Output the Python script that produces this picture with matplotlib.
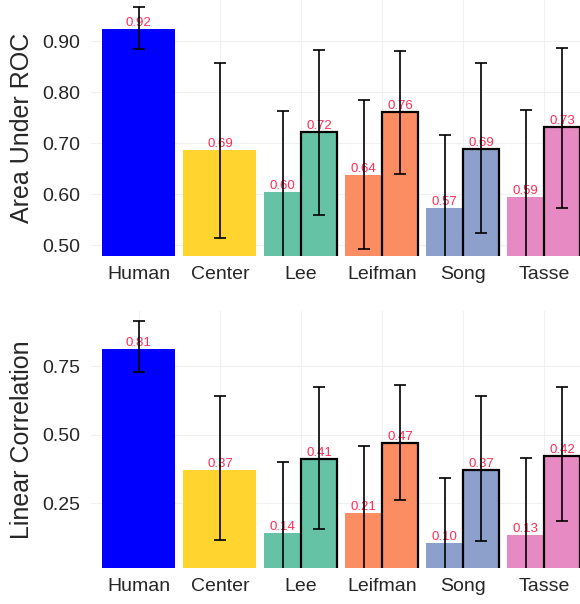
"""Saliency benchmark: AUC and linear correlation per method."""
import matplotlib

matplotlib.use("Agg")
import matplotlib.pyplot as plt
import numpy as np

groups = ["Human", "Center", "Lee", "Leifman", "Song", "Tasse"]
group_colors = ["#0000FF", "#FFD42F", "#66C2A5", "#FC8D62", "#8DA0CB", "#E78AC3"]

# AUC: single bars for Human/Center, (original, improved) pairs for the rest
auc_single = [0.924, 0.686]
auc_single_lo = [0.884, 0.514]
auc_single_hi = [0.967, 0.857]
auc_orig = [0.604, 0.638, 0.572, 0.594]
auc_orig_lo = [0.445, 0.492, 0.428, 0.425]
auc_orig_hi = [0.763, 0.784, 0.716, 0.765]
auc_impr = [0.722, 0.761, 0.689, 0.731]
auc_impr_lo = [0.559, 0.639, 0.523, 0.573]
auc_impr_hi = [0.882, 0.880, 0.857, 0.886]

# Linear correlation
cc_single = [0.814, 0.372]
cc_single_lo = [0.728, 0.115]
cc_single_hi = [0.914, 0.640]
cc_orig = [0.140, 0.214, 0.103, 0.132]
cc_orig_lo = [-0.120, -0.030, -0.130, -0.140]
cc_orig_hi = [0.400, 0.458, 0.341, 0.414]
cc_impr = [0.410, 0.468, 0.372, 0.423]
cc_impr_lo = [0.155, 0.261, 0.111, 0.184]
cc_impr_hi = [0.673, 0.680, 0.640, 0.673]

RED = "#FF2D55"
GRID = "#F0F0F0"
TXT = "#262626"


def draw(ax, single, s_lo, s_hi, orig, o_lo, o_hi, impr, i_lo, i_hi):
    width = 0.9
    half = width / 2
    x_single = np.arange(2)
    x_pair = np.arange(2, 6)
    eb = dict(fmt="none", ecolor="black", elinewidth=1.2, capsize=4, capthick=1.2, zorder=4)

    ax.bar(x_single, single, width=width, color=group_colors[:2], zorder=2)
    ax.errorbar(x_single, single,
                yerr=[np.subtract(single, s_lo), np.subtract(s_hi, single)], **eb)
    for x, v in zip(x_single, single):
        ax.text(x, v, f"{v:.2f}", color=RED, fontsize=9.5, ha="center", va="bottom", zorder=3)

    xo = x_pair - half / 2
    xi = x_pair + half / 2
    ax.bar(xo, orig, width=half, color=group_colors[2:], zorder=2)
    ax.bar(xi, impr, width=half, color=group_colors[2:], edgecolor="black", linewidth=1.6, zorder=2)
    ax.errorbar(xo, orig, yerr=[np.subtract(orig, o_lo), np.subtract(o_hi, orig)], **eb)
    ax.errorbar(xi, impr, yerr=[np.subtract(impr, i_lo), np.subtract(i_hi, impr)], **eb)
    for x, v in list(zip(xo, orig)) + list(zip(xi, impr)):
        ax.text(x, v, f"{v:.2f}", color=RED, fontsize=9.5, ha="center", va="bottom", zorder=3)

    ax.set_xticks(np.arange(6))
    ax.set_xticklabels(groups)
    ax.set_xlim(-0.59, 5.445)
    ax.tick_params(axis="both", length=0, labelsize=14, colors=TXT, pad=8)
    ax.tick_params(axis="x", pad=7)
    for s in ax.spines.values():
        s.set_visible(False)
    ax.grid(True, color=GRID, linewidth=0.8, zorder=0)
    ax.set_axisbelow(True)


fig = plt.figure(figsize=(5.8, 6.04), dpi=100)
plt.rcParams["font.family"] = ["Liberation Sans", "DejaVu Sans"]

ax1 = fig.add_axes([0.157, 0.576, 0.843, 0.424])
draw(ax1, auc_single, auc_single_lo, auc_single_hi,
     auc_orig, auc_orig_lo, auc_orig_hi, auc_impr, auc_impr_lo, auc_impr_hi)
ax1.set_ylim(0.4784, 0.9804)
ax1.set_yticks([0.5, 0.6, 0.7, 0.8, 0.9])
ax1.set_yticklabels(["0.50", "0.60", "0.70", "0.80", "0.90"])
ax1.set_ylabel("Area Under ROC", fontsize=18, color=TXT, labelpad=6)

ax2 = fig.add_axes([0.157, 0.0596, 0.843, 0.4255])
draw(ax2, cc_single, cc_single_lo, cc_single_hi,
     cc_orig, cc_orig_lo, cc_orig_hi, cc_impr, cc_impr_lo, cc_impr_hi)
ax2.set_ylim(0.0128, 0.951)
ax2.set_yticks([0.25, 0.5, 0.75])
ax2.set_yticklabels(["0.25", "0.50", "0.75"])
ax2.set_ylabel("Linear Correlation", fontsize=18, color=TXT, labelpad=6)

fig.savefig("out.png", dpi=100)
